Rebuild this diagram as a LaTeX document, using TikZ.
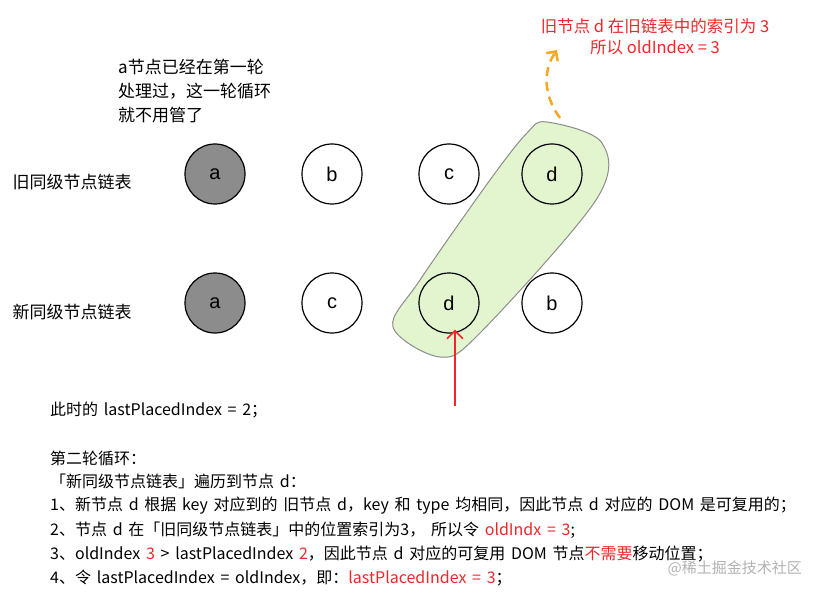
\documentclass[tikz,border=0pt]{standalone}
\usepackage{fontspec}
\setmainfont{Noto Sans CJK SC}
\newfontfamily\circfont{Liberation Sans}
\newfontfamily\stepfont[WordSpace=1.6]{Noto Sans CJK SC}
\usetikzlibrary{arrows.meta,positioning}
\definecolor{blobgreen}{HTML}{E3F5CE}
\definecolor{donegray}{HTML}{8C8C8C}
\definecolor{hintorange}{HTML}{F5A623}
\definecolor{hintred}{HTML}{F2262A}
\tikzset{
  listnode/.style={circle,draw,line width=1.2pt,minimum size=60pt,inner sep=0pt,font=\circfont\fontsize{20}{20}\selectfont},
  donenode/.style={listnode,fill=donegray},
  rowlabel/.style={anchor=west,font=\fontsize{17}{18}\selectfont},
  steptext/.style={anchor=west,inner sep=0pt,font=\stepfont\fontsize{16}{17}\selectfont},
}

\begin{document}
\begin{tikzpicture}[x=1pt,y=-1pt]
  \useasboundingbox (0,0) rectangle (819,596);
  % green blob behind the two d nodes
  \draw[gray!90,line width=1pt,fill=blobgreen] plot[smooth cycle,tension=0.55] coordinates
    {(547,122) (602,143) (596,200) (480,333) (440,357) (393,327) (420,280) (490,180) (527,133)};
  % old list
  \node[rowlabel] (oldlabel) at (9,182) {旧同级节点链表};
  \node[donenode] (oa) at (215,174) {a};
  \node[listnode] (ob) at (332,174) {b};
  \node[listnode] (oc) at (449,174) {c};
  \node[listnode] (od) at (552,174) {d};
  % new list
  \node[rowlabel] (newlabel) at (9,312) {新同级节点链表};
  \node[donenode] (na) at (215,303) {a};
  \node[listnode] (nc) at (332,303) {c};
  \node[listnode] (nd) at (449,303) {d};
  \node[listnode] (nb) at (552,303) {b};
  % notes
  \node[anchor=north west,align=left,inner sep=0pt,font=\fontsize{17}{24}\selectfont] (anote) at (118,59)
    {a节点已经在第一轮\\处理过，这一轮循环\\就不用管了};
  \node[align=center,text=hintred,inner sep=0pt,font=\fontsize{16.5}{21}\selectfont] (oldnote) at (655,37)
    {旧节点 d 在旧链表中的索引为 3\\所以 oldIndex = 3};
  % arrows
  \coordinate (orstart) at (560,118);
  \coordinate (ortip) at (557,50);
  \draw[hintorange,line width=2.5pt,dash pattern=on 9pt off 6pt,-{Straight Barb[length=7pt,width=14pt]}]
    (orstart) .. controls (543,95) and (543,70) .. (ortip);
  \coordinate (redtail) at (455,406);
  \draw[hintred,line width=1.6pt,-{Straight Barb[length=8pt,width=16pt]}] (redtail) -- ([xshift=6pt,yshift=4pt]nd.south);
  % steps
  \node[steptext] (s0) at (50,410) {此时的 lastPlacedIndex = 2；};
  \node[steptext] (s1) at (50,458) {第二轮循环：};
  \node[steptext] (s2) at (50,481) {「新同级节点链表」遍历到节点 d：};
  \node[steptext] (s3) at (50,506) {1、新节点 d 根据 key 对应到的 旧节点 d，key 和 type 均相同，因此节点 d 对应的 DOM 是可复用的；};
  \node[steptext] (s4) at (50,530) {2、节点 d 在「旧同级节点链表」中的位置索引为3， 所以令 \textcolor{hintred}{oldIndx = 3};};
  \node[steptext] (s5) at (50,554) {3、oldIndex \textcolor{hintred}{3} > lastPlacedIndex \textcolor{hintred}{2}，因此节点 d 对应的可复用 DOM 节点\textcolor{hintred}{不需要}移动位置；};
  \node[steptext] (s6) at (50,578) {4、令 lastPlacedIndex = oldIndex，即：\textcolor{hintred}{lastPlacedIndex = 3}；};
  \node[anchor=east,text=gray!60,inner sep=0pt,font=\fontsize{15}{16}\selectfont] (mark) at (802,568) {@稀土掘金技术社区};
\end{tikzpicture}
\end{document}
